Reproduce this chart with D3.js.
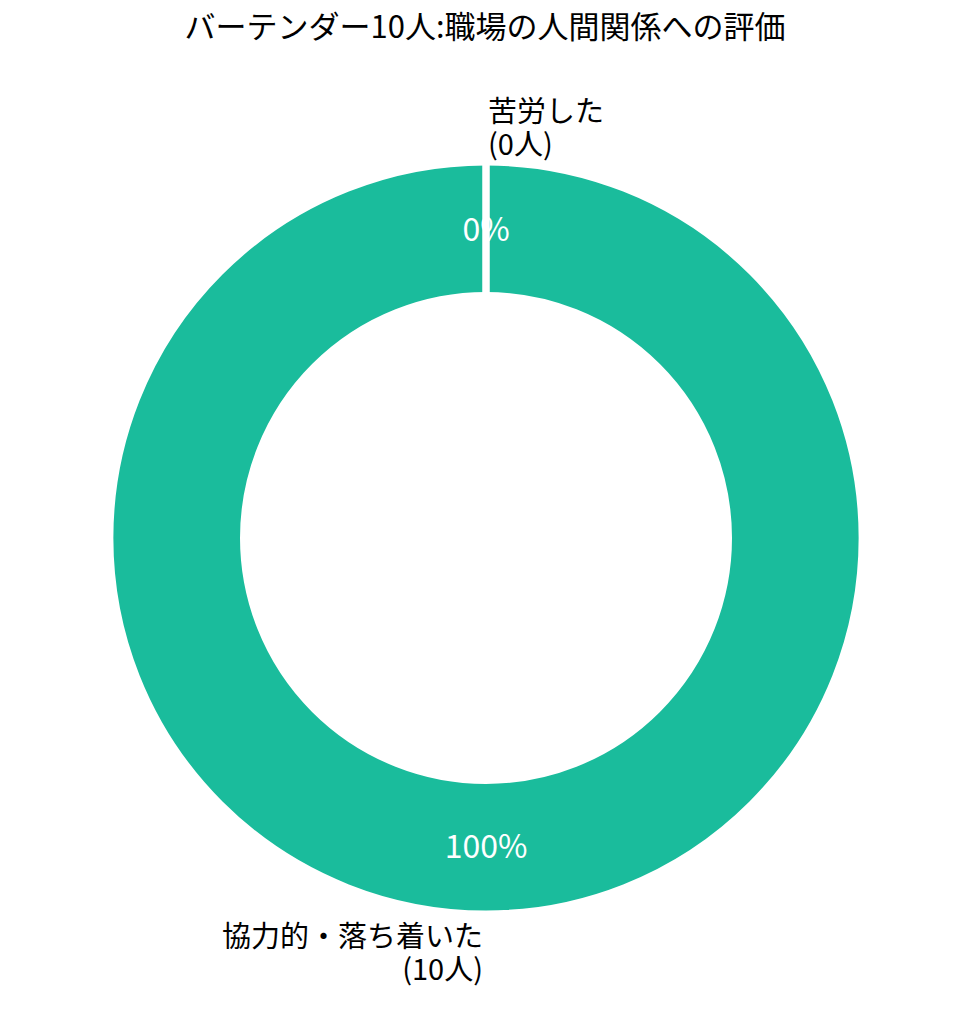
<!DOCTYPE html>
<html>
<head>
<meta charset="utf-8">
<script src="https://cdn.jsdelivr.net/npm/d3@7"></script>
<style>
  body { margin: 0; background: #fff; }
  text { font-family: "Noto Sans CJK JP", "Noto Sans", sans-serif; }
</style>
</head>
<body>
<div id="chart"></div>
<script>
var title = "バーテンダー10人:職場の人間関係への評価";
var categories = ["協力的・落ち着いた", "苦労した"];
var counts = [10, 0];

var width = 970;
var height = 1025;
var cx = 486, cy = 538;
var radius = 372.5;
var edge = 7.5;
var outerR = radius + edge / 2;
var innerR = 246 - edge / 2;
var color = "#1abc9c";

var svg = d3.select("#chart")
    .append("svg")
    .attr("width", width)
    .attr("height", height)

svg.append("text")
    .attr("x", width / 2)
    .attr("y", 38)
    .attr("text-anchor", "middle")
    .style("font-size", "31px")
    .style("fill", "#000")
    .text(title)

var total = d3.sum(counts);

// counterclockwise from the top, like the original
var pie = d3.pie()
    .sort(null)
    .startAngle(0)
    .endAngle(-2 * Math.PI)
    .value(d => d.value);

var data = pie(categories.map((c, i) => ({ name: c, value: counts[i] })));

var arc = d3.arc().innerRadius(innerR).outerRadius(outerR);

var g = svg.append("g")
    .attr("transform", `translate(${cx},${cy})`)

g.selectAll("path")
    .data(data)
    .enter().append("path")
        .attr("d", arc)
        .attr("fill", color)
        .attr("stroke", "#fff")
        .attr("stroke-width", edge)
        .attr("stroke-linejoin", "miter")

// percentage labels
var pctR = 308.5;
g.selectAll(".pct")
    .data(data)
    .enter().append("text")
        .attr("class", "pct")
        .attr("x", d => pctR * Math.sin((d.startAngle + d.endAngle) / 2))
        .attr("y", d => -pctR * Math.cos((d.startAngle + d.endAngle) / 2) - 3)
        .attr("text-anchor", "middle")
        .attr("dominant-baseline", "central")
        .style("fill", "#fff")
        .style("font-size", "32px")
        .text(d => Math.round(d.data.value / total * 100) + "%")

// category labels
var labelR = radius * 1.1 + 3;
var lineH = 33;
var labels = g.selectAll(".lab")
    .data(data)
    .enter().append("text")
        .attr("class", "lab")
        .style("font-size", "29px")
        .style("fill", "#000")
        .attr("text-anchor", function(d) {
            var a = (d.startAngle + d.endAngle) / 2;
            return Math.sin(a) < 0 ? "end" : "start";
        })

labels.each(function(d) {
    var a = (d.startAngle + d.endAngle) / 2;
    var x = labelR * Math.sin(a) + (Math.sin(a) < 0 ? -3 : 2);
    var y = -labelR * Math.cos(a);
    var lines = [d.data.name, "(" + d.data.value + "人)"];
    d3.select(this).selectAll("tspan")
        .data(lines)
        .enter().append("tspan")
            .attr("x", x)
            .attr("y", (l, i) => y + (i - (lines.length - 1) / 2) * lineH)
            .attr("dominant-baseline", "central")
            .text(l => l)
})
</script>
</body>
</html>
